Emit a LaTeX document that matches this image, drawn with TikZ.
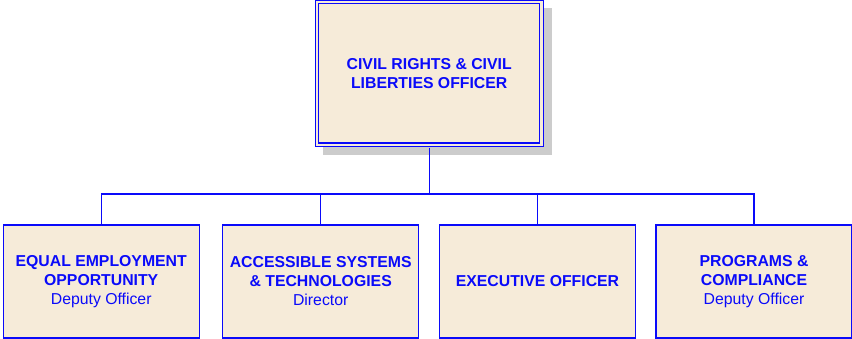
\documentclass[tikz,border=0pt]{standalone}
\usepackage{fontspec}
\setmainfont{Liberation Sans}
\usepackage{xcolor}
\usetikzlibrary{
  positioning,
  shadows}
\definecolor{orgblue}{RGB}{10,10,250}
\definecolor{orgfill}{RGB}{246,235,217}
\tikzset{every picture/.style={font issue=\fontsize{15.8pt}{19pt}},
         font issue/.style={execute at begin picture={#1\selectfont}}
        }

\begin{document}
\begin{tikzpicture}[x=1pt,y=-1pt,
  unitbox/.style={draw=orgblue, fill=orgfill, line width=1.3pt, text=orgblue,
    align=center, inner sep=0pt, minimum width=196pt, minimum height=113pt},
  headbox/.style={unitbox, double=orgfill, double distance=2.3pt, line width=1.1pt,
    minimum width=224.6pt, minimum height=142.5pt,
    general shadow={fill=black!20, draw=black!20, line width=4.5pt,
      shadow xshift=8pt, shadow yshift=-8.3pt}},
  link/.style={draw=orgblue, line width=1.3pt}]

\useasboundingbox (0,0) rectangle (852,339);

%head of the office
\node[headbox] (head) at (429.2,73.5)
  {\textbf{CIVIL RIGHTS \& CIVIL}\\\textbf{LIBERTIES OFFICER}};

%units
\node[unitbox] (eeo) at (101.2,281.5)
  {\textbf{EQUAL EMPLOYMENT}\\\textbf{OPPORTUNITY}\\Deputy Officer};
\node[unitbox] (ast) at (320.7,281.5)
  {\textbf{ACCESSIBLE SYSTEMS}\\\textbf{\& TECHNOLOGIES}\\Director};
\node[unitbox] (exo) at (537.5,281.5)
  {\textbf{EXECUTIVE OFFICER}};
\node[unitbox] (pac) at (754,281.5)
  {\textbf{PROGRAMS \&}\\\textbf{COMPLIANCE}\\Deputy Officer};

%lines
\coordinate (bus) at (429.2,194);
\draw[link] ([yshift=-2.25pt]head.south) -- (bus);
\draw[link] (eeo.north) -- (eeo.north |- bus) -- (pac.north |- bus) -- (pac.north);
\draw[link] (ast.north) -- (ast.north |- bus);
\draw[link] (exo.north) -- (exo.north |- bus);

\end{tikzpicture}
\end{document}
